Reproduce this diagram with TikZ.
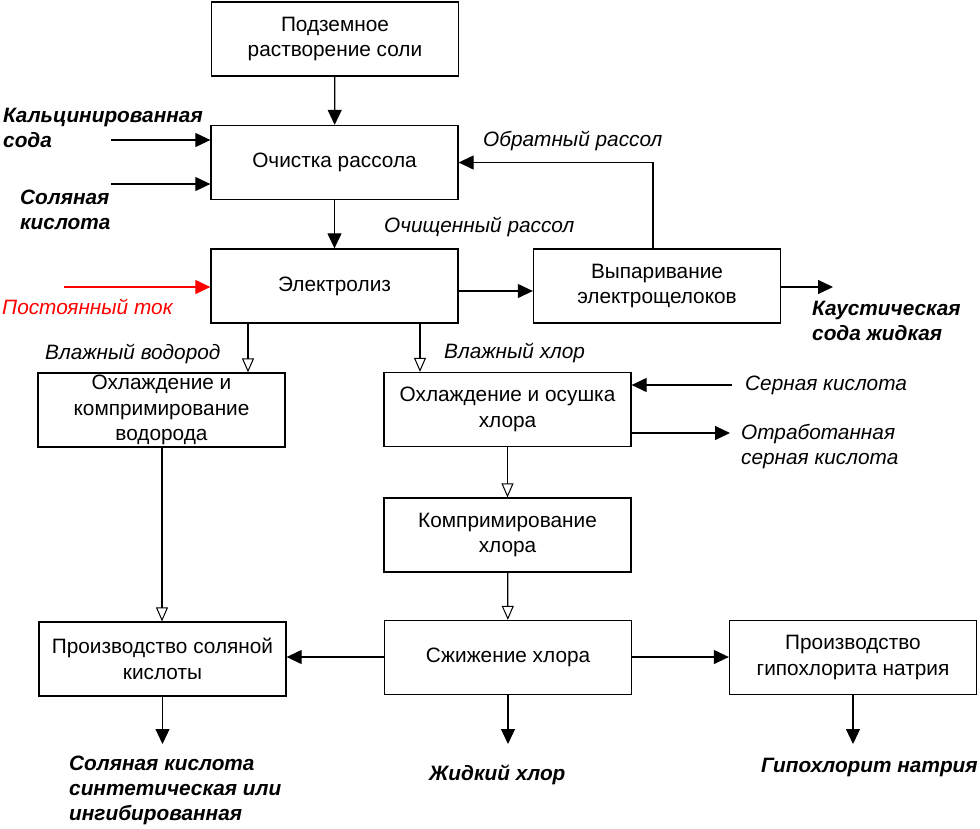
\documentclass[tikz,border=0pt]{standalone}
\usepackage{fontspec}
\setmainfont{Liberation Sans}
\usetikzlibrary{arrows.meta,calc}
\begin{document}
\begin{tikzpicture}[x=1pt,y=-1pt,
  box/.style={draw,line width=1.3pt,minimum width=247pt,minimum height=74pt,inner sep=0pt,align=center,font=\fontsize{20.8}{25.5}\selectfont},
  lbl/.style={inner sep=0pt,anchor=west,align=left,font=\fontsize{20.8}{25}\selectfont\itshape},
  blbl/.style={inner sep=0pt,anchor=west,align=left,font=\fontsize{20.8}{25}\selectfont\bfseries\itshape},
  fl/.style={line width=1.2pt,-{Triangle[length=15pt,width=14pt]}},
  ol/.style={line width=1.2pt,-{Triangle[open,length=14pt,width=12pt,line width=1pt]}}
]
\useasboundingbox (0,0) rectangle (980,828);
% boxes
\node[box] (b1) at (335,39) {Подземное\\растворение соли};
\node[box] (b2) at (334.5,162.5) {Очистка рассола};
\node[box] (b3) at (334.5,286) {Электролиз};
\node[box] (b4) at (657,286) {Выпаривание\\электрощелоков};
\node[box] (b5) at (161.5,410) {Охлаждение и\\компримирование\\водорода};
\node[box] (b6) at (507.5,409.5) {Охлаждение и осушка\\хлора};
\node[box] (b7) at (507.5,535) {Компримирование\\хлора};
\node[box] (b8) at (508,657.5) {Сжижение хлора};
\node[box] (b9) at (162.5,659) {Производство соляной\\кислоты};
\node[box] (b10) at (853,657.5) {Производство\\гипохлорита натрия};
% coordinates
\coordinate (k1) at (111,140);
\coordinate (k2) at (111,184);
\coordinate (k3) at (64,287);
\coordinate (r) at (653,163);
\coordinate (cs) at (833,287);
\coordinate (h) at (248,0);
\coordinate (c) at (420,0);
\coordinate (hv) at (162,0);
\coordinate (sk) at (732,385);
\coordinate (ok) at (730,433);
\coordinate (hz) at (0,657);
\coordinate (d1) at (162.5,744);
\coordinate (d2) at (508,744);
\coordinate (d3) at (853,744);
% connectors
\draw[fl] (b1) -- (b2);
\draw[fl] (b2) -- (b3);
\draw[fl] (k1) -- (k1 -| b2.west);
\draw[fl] (k2) -- (k2 -| b2.west);
\draw[fl,red] (k3) -- (k3 -| b3.west);
\draw[fl] ($(b3.east)+(0,5)$) -- ($(b4.west)+(0,5)$);
\draw[fl] (b4.north -| r) |- (b2.east);
\draw[fl] (b4.east |- cs) -- (cs);
\draw[ol] (b3.south -| h) -- (b5.north -| h);
\draw[ol] (b3.south -| c) -- (b6.north -| c);
\draw[fl] (sk) -- (sk -| b6.east);
\draw[fl] (ok -| b6.east) -- (ok);
\draw[ol] (b6) -- (b7);
\draw[ol] (b7) -- (b8);
\draw[ol] (b5.south -| hv) -- (b9.north -| hv);
\draw[fl] (b8.west |- hz) -- (b9.east |- hz);
\draw[fl] (b8.east |- hz) -- (b10.west |- hz);
\draw[fl] (b9) -- (d1);
\draw[fl] (b8) -- (d2);
\draw[fl] (b10) -- (d3);
% labels
\node[blbl] (t1) at (3,128) {Кальцинированная\\сода};
\node[blbl] (t2) at (20,209.5) {Соляная\\кислота};
\node[lbl,text=red] (t3) at (2,307) {Постоянный ток};
\node[lbl] (t4) at (483,141) {Обратный рассол};
\node[lbl] (t5) at (384,227) {Очищенный рассол};
\node[lbl] (t6) at (45,354) {Влажный водород};
\node[lbl] (t7) at (444,353) {Влажный хлор};
\node[blbl] (t8) at (812,320.5) {Каустическая\\сода жидкая};
\node[lbl] (t9) at (745,385) {Серная кислота};
\node[lbl] (t10) at (741,446.5) {Отработанная\\серная кислота};
\node[blbl] (t11) at (69,790) {Соляная кислота\\синтетическая или\\ингибированная};
\node[blbl] (t12) at (429,775) {Жидкий хлор};
\node[blbl] (t13) at (761,767) {Гипохлорит натрия};
\end{tikzpicture}
\end{document}
